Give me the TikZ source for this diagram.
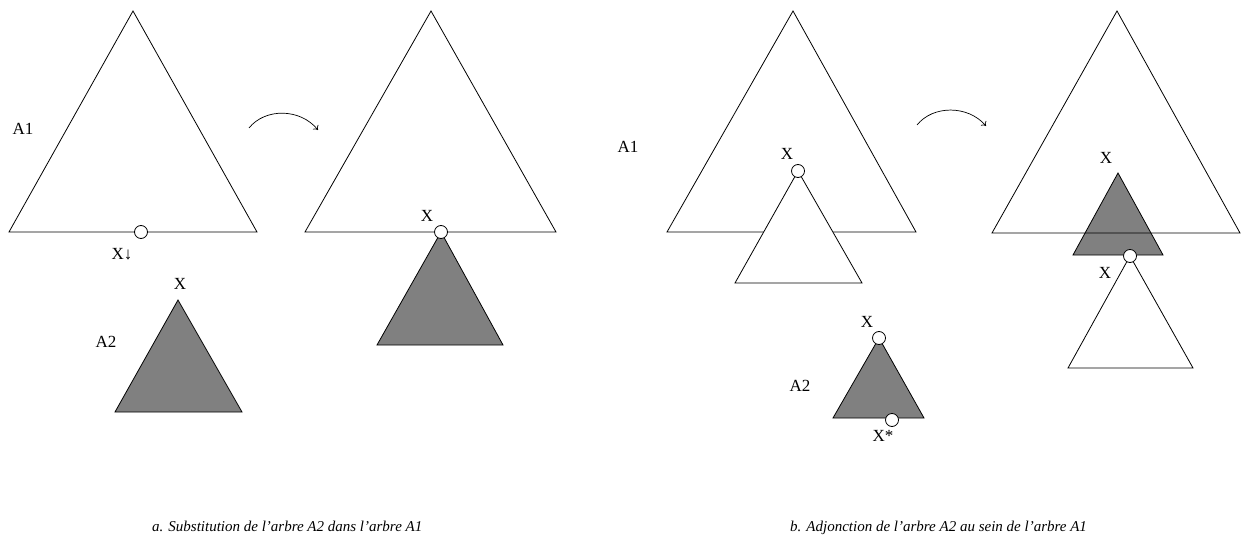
\documentclass[tikz,border=0pt]{standalone}
\usepackage{fontspec}
\setmainfont{Liberation Serif}
\usetikzlibrary{arrows.meta}
\definecolor{treegray}{HTML}{808080}
\begin{document}
\begin{tikzpicture}[x=1pt,y=-1pt,
  tree/.style={draw,line width=0.8pt,line join=miter},
  subtree/.style={tree,fill=treegray},
  foot/.style={circle,draw,fill=white,line width=0.8pt,minimum size=13pt,inner sep=0pt},
  lab/.style={inner sep=0pt,font=\fontsize{17}{19}\selectfont},
  capt/.style={inner sep=0pt,anchor=base west,font=\fontsize{15}{17}\selectfont\itshape},
  move/.style={-{To[length=4pt,width=7pt]},line width=0.7pt}]
\useasboundingbox (0,0) rectangle (1241,537);

% a. substitution
\draw[tree] (133,11) -- (257,232) -- (9,232) -- cycle;
\node[foot] (s1) at (141,232) {};
\node[lab] (a1) at (23,129) {A1};
\node[lab] (xs) at (122,254) {X↓};
\draw[subtree] (178,300) -- (242,412) -- (115,412) -- cycle;
\node[lab] (x2) at (180,284) {X};
\node[lab] (a2) at (106,342) {A2};

\coordinate (m1) at (249,128);
\coordinate (m2) at (318,130);
\draw[move] (m1) .. controls (265,108) and (300,108) .. (m2);

\draw[tree] (431,11) -- (556,232) -- (305,232) -- cycle;
\draw[subtree] (441,232) -- (503,345) -- (377,345) -- cycle;
\node[foot] (s2) at (441,232) {};
\node[lab] (x3) at (427,216) {X};

\node[capt] (ca) at (152,531) {a. Substitution de l’arbre A2 dans l’arbre A1};

% b. adjonction
\draw[tree] (793,11) -- (916,232) -- (667,232) -- cycle;
\draw[tree,fill=white] (798,171) -- (862,283) -- (735,283) -- cycle;
\node[foot] (s3) at (798,171) {};
\node[lab] (a1b) at (628,147) {A1};
\node[lab] (x4) at (787,154) {X};

\draw[subtree] (879,338) -- (924,418) -- (833,418) -- cycle;
\node[foot] (s4) at (879,338) {};
\node[foot] (s5) at (892,420) {};
\node[lab] (x5) at (867,322) {X};
\node[lab] (a2b) at (800,386) {A2};
\node[lab] (xf) at (883,436) {X*};

\coordinate (m3) at (917,125);
\coordinate (m4) at (986,126);
\draw[move] (m3) .. controls (933,105) and (968,105) .. (m4);

\draw[subtree] (1118,173) -- (1163,255) -- (1073,255) -- cycle;
\draw[tree] (1117,11) -- (1240,233) -- (992,233) -- cycle;
\draw[tree,fill=white] (1130,256) -- (1193,368) -- (1068,368) -- cycle;
\node[foot] (s6) at (1130,256) {};
\node[lab] (x6) at (1106,158) {X};
\node[lab] (x7) at (1105,273) {X};

\node[capt] (cb) at (790,531) {b. Adjonction de l’arbre A2 au sein de l’arbre A1};
\end{tikzpicture}
\end{document}
